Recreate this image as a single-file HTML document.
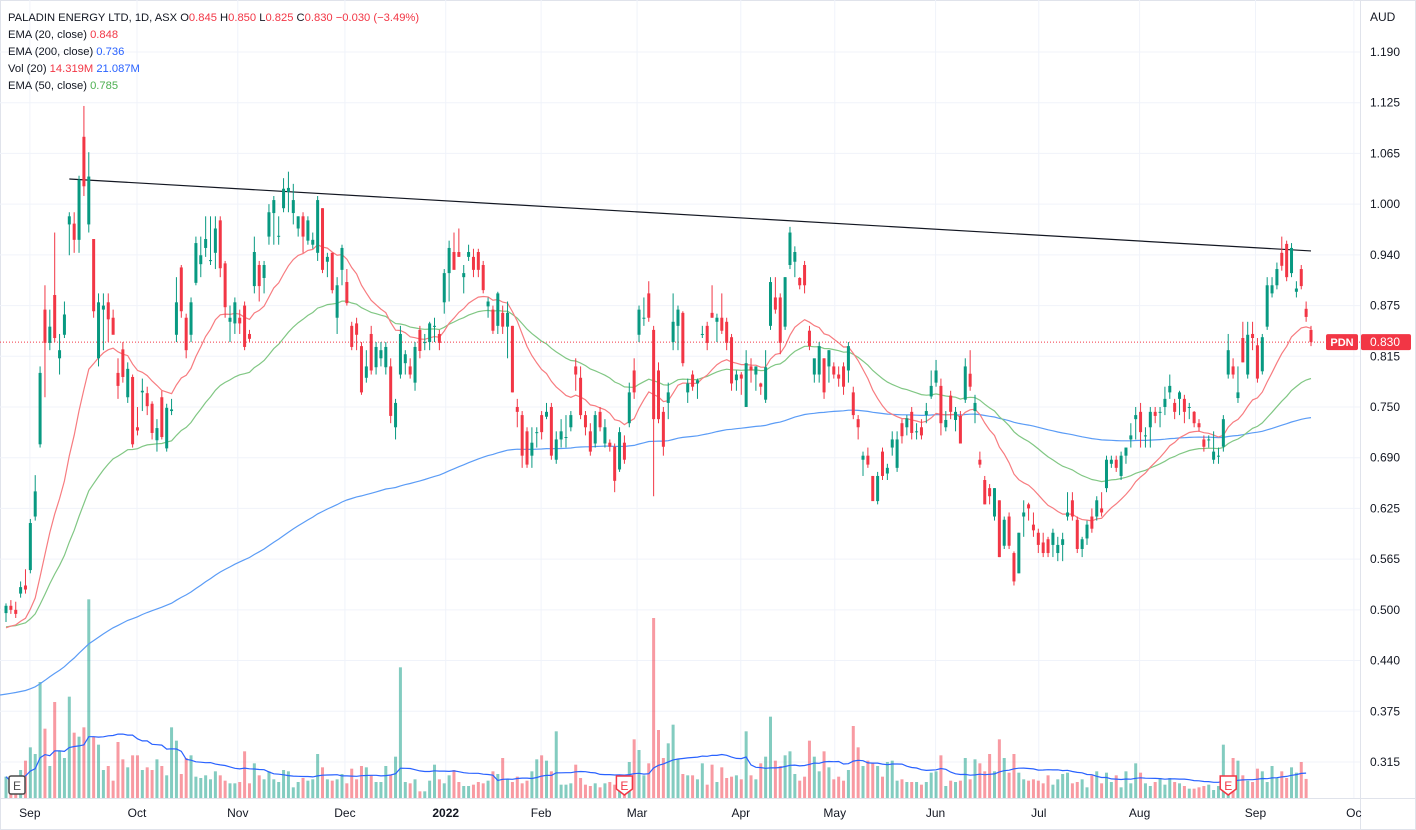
<!DOCTYPE html>
<html><head><meta charset="utf-8">
<style>
html,body{margin:0;padding:0;background:#fff;}
svg{display:block;font-family:"Liberation Sans",Arial,sans-serif;}
</style></head>
<body>
<svg id="chart" width="1416" height="830" viewBox="0 0 1416 830" xmlns="http://www.w3.org/2000/svg">
<rect x="0.5" y="0.5" width="1415" height="829" fill="#fff" stroke="#e0e3eb"/>
<g id="grid"></g>
<g id="volg"></g>
<g id="lines"></g>
<g id="candles"></g>
<g id="axes"></g>
<g id="legend" font-size="11.2" style="white-space:pre">
 <text x="8" y="21"><tspan fill="#131722">PALADIN ENERGY LTD, 1D, ASX  O</tspan><tspan fill="#f23645">0.845</tspan><tspan fill="#131722">  H</tspan><tspan fill="#f23645">0.850</tspan><tspan fill="#131722">  L</tspan><tspan fill="#f23645">0.825</tspan><tspan fill="#131722">  C</tspan><tspan fill="#f23645">0.830  −0.030 (−3.49%)</tspan></text>
 <text x="8" y="38"><tspan fill="#131722">EMA (20, close)  </tspan><tspan fill="#f23645">0.848</tspan></text>
 <text x="8" y="55"><tspan fill="#131722">EMA (200, close)  </tspan><tspan fill="#2962ff">0.736</tspan></text>
 <text x="8" y="72"><tspan fill="#131722">Vol (20)  </tspan><tspan fill="#f23645">14.319M  </tspan><tspan fill="#2962ff">21.087M</tspan></text>
 <text x="8" y="89"><tspan fill="#131722">EMA (50, close)  </tspan><tspan fill="#4caf50">0.785</tspan></text>
</g>
</svg>
<script>
const ohlc = [
[.496,.508,.485,.505],[.505,.512,.495,.500],[.500,.51,.49,.495],[.520,.535,.515,.528],[.530,.55,.52,.525],
[.549,.612,.545,.607],[.615,.666,.61,.646],[.704,.80,.70,.792],[.870,.90,.762,.829],[.829,.87,.82,.849],
[.888,.965,.83,.835],[.810,.84,.79,.820],[.839,.88,.835,.864],[.975,.99,.937,.985],[.976,.99,.94,.956],
[.956,1.035,.94,1.03],[1.083,1.121,1.01,1.022],[.975,1.064,.965,1.034],[.957,.957,.86,.868],[.810,.89,.80,.879],
[.870,.89,.82,.875],[.879,.89,.83,.858],[.860,.87,.84,.839],[.792,.81,.76,.776],[.821,.83,.78,.787],
[.762,.805,.755,.797],[.787,.79,.70,.704],[.725,.75,.715,.721],[.768,.785,.745,.770],[.767,.775,.74,.751],
[.754,.757,.71,.718],[.709,.735,.695,.724],[.762,.77,.71,.713],[.699,.754,.695,.749],[.745,.76,.74,.747],
[.839,.91,.83,.879],[.922,.925,.86,.868],[.860,.865,.81,.820],[.839,.885,.83,.879],[.903,.96,.90,.952],
[.926,.96,.91,.937],[.946,.985,.935,.957],[.931,.985,.925,.931],[.940,.985,.92,.970],[.980,.985,.91,.921],
[.927,.93,.86,.873],[.855,.875,.83,.860],[.853,.885,.84,.879],[.860,.87,.84,.853],[.875,.88,.82,.824],
[.840,.845,.83,.834],[.899,.96,.89,.941],[.925,.93,.88,.899],[.909,.93,.89,.925],[.960,1.0,.95,.990],
[.989,1.01,.95,1.005],[.961,.985,.95,.961],[.995,1.032,.99,1.019],[1.015,1.04,.99,1.020],[.989,1.025,.975,1.005],
[.970,.985,.96,.985],[.985,.99,.94,.960],[.955,.985,.95,.980],[.950,.965,.945,.956],[.940,1.01,.93,1.005],
[.995,.995,.915,.919],[.929,.94,.91,.935],[.940,.94,.89,.894],[.860,.91,.84,.900],[.919,.95,.90,.946],
[.904,.92,.875,.878],[.850,.855,.82,.824],[.853,.86,.82,.839],[.825,.83,.765,.768],[.786,.82,.78,.800],
[.840,.85,.79,.795],[.799,.83,.79,.824],[.810,.83,.80,.820],[.799,.83,.79,.824],[.800,.81,.73,.739],
[.725,.76,.71,.755],[.790,.85,.785,.840],[.804,.82,.79,.815],[.800,.81,.785,.790],[.780,.83,.77,.824],
[.845,.85,.81,.819],[.830,.84,.82,.830],[.830,.855,.82,.853],[.850,.86,.83,.850],[.840,.845,.82,.829],
[.879,.92,.865,.915],[.915,.955,.88,.946],[.941,.965,.93,.919],[.941,.97,.935,.935],[.910,.925,.89,.915],
[.935,.95,.93,.941],[.935,.945,.91,.919],[.941,.945,.91,.919],[.925,.93,.89,.894],[.874,.885,.86,.880],
[.870,.875,.84,.844],[.850,.892,.84,.890],[.866,.875,.84,.849],[.849,.88,.81,.866],[.850,.85,.768,.768],
[.750,.76,.725,.744],[.740,.745,.675,.690],[.720,.725,.675,.679],[.690,.725,.675,.706],[.719,.725,.70,.719],
[.740,.745,.71,.719],[.738,.755,.735,.744],[.750,.755,.685,.690],[.685,.72,.68,.710],[.710,.735,.70,.720],
[.713,.74,.70,.713],[.725,.745,.72,.740],[.800,.81,.77,.790],[.786,.80,.735,.740],[.740,.745,.715,.725],
[.720,.73,.69,.695],[.705,.745,.70,.740],[.744,.75,.72,.725],[.705,.735,.70,.725],[.706,.71,.695,.701],
[.701,.705,.645,.659],[.673,.725,.67,.719],[.706,.715,.68,.685],[.730,.78,.725,.768],[.795,.81,.76,.768],
[.839,.875,.83,.870],[.860,.885,.85,.860],[.890,.905,.855,.860],[.845,.85,.64,.735],[.795,.805,.73,.735],
[.744,.75,.69,.701],[.755,.78,.735,.768],[.830,.89,.82,.855],[.850,.875,.82,.870],[.866,.868,.80,.804],
[.768,.785,.755,.779],[.790,.795,.77,.775],[.779,.785,.76,.783],[.840,.85,.835,.840],[.850,.855,.82,.829],
[.866,.90,.86,.860],[.855,.865,.83,.860],[.860,.89,.84,.844],[.855,.86,.82,.829],[.836,.84,.77,.779],
[.783,.795,.77,.790],[.790,.793,.765,.785],[.750,.82,.75,.804],[.800,.81,.78,.795],[.790,.80,.77,.800],
[.779,.78,.765,.775],[.759,.82,.755,.799],[.850,.91,.845,.904],[.885,.91,.865,.870],[.885,.89,.815,.829],
[.849,.91,.845,.910],[.925,.972,.92,.965],[.929,.948,.91,.941],[.909,.91,.895,.900],[.925,.93,.89,.900],
[.844,.85,.82,.825],[.790,.805,.78,.810],[.790,.83,.78,.825],[.810,.81,.76,.768],[.800,.82,.78,.820],
[.800,.805,.785,.790],[.790,.80,.775,.785],[.800,.805,.765,.775],[.795,.83,.78,.825],[.768,.775,.735,.740],
[.735,.74,.71,.725],[.685,.695,.665,.690],[.690,.70,.675,.679],[.665,.665,.635,.634],[.634,.67,.63,.665],
[.695,.70,.66,.665],[.668,.68,.66,.675],[.700,.72,.69,.710],[.675,.72,.67,.710],[.730,.735,.705,.714],
[.725,.74,.715,.736],[.744,.75,.71,.718],[.720,.73,.71,.720],[.725,.735,.71,.715],[.740,.755,.73,.745],
[.763,.795,.76,.776],[.780,.808,.775,.795],[.776,.785,.715,.730],[.725,.745,.72,.734],[.764,.77,.735,.744],
[.734,.75,.72,.744],[.739,.745,.705,.705],[.759,.81,.755,.800],[.791,.82,.77,.775],[.745,.765,.73,.755],
[.685,.695,.675,.679],[.660,.665,.63,.630],[.650,.655,.63,.640],[.615,.65,.61,.650],[.635,.635,.565,.565],
[.579,.615,.575,.611],[.615,.62,.575,.579],[.570,.572,.53,.535],[.545,.595,.545,.595],[.615,.635,.59,.620],
[.630,.632,.61,.625],[.605,.62,.59,.598],[.595,.60,.57,.580],[.583,.595,.565,.570],[.587,.59,.565,.570],
[.580,.60,.565,.595],[.570,.59,.56,.580],[.580,.595,.56,.587],[.615,.645,.61,.620],[.635,.645,.61,.615],
[.611,.615,.57,.575],[.575,.59,.565,.587],[.588,.61,.58,.605],[.615,.625,.595,.600],[.615,.64,.61,.635],
[.625,.645,.615,.620],[.650,.69,.645,.685],[.680,.69,.675,.685],[.685,.69,.67,.675],[.665,.695,.66,.690],
[.690,.70,.68,.700],[.710,.73,.70,.715],[.735,.75,.71,.740],[.744,.755,.70,.719],[.715,.725,.70,.715],
[.725,.75,.70,.744],[.744,.75,.73,.739],[.744,.75,.725,.744],[.750,.775,.74,.760],[.768,.79,.76,.776],
[.755,.76,.735,.744],[.760,.77,.74,.768],[.760,.765,.73,.744],[.750,.755,.735,.750],[.744,.745,.725,.730],
[.730,.735,.72,.725],[.710,.715,.695,.701],[.710,.715,.70,.710],[.685,.72,.68,.695],[.690,.70,.68,.690],
[.701,.74,.695,.735],[.790,.84,.785,.820],[.800,.81,.785,.790],[.761,.80,.755,.768],[.835,.855,.805,.805],
[.790,.855,.785,.839],[.840,.855,.82,.835],[.826,.835,.78,.785],[.794,.84,.79,.836],[.849,.91,.845,.900],
[.890,.91,.885,.900],[.900,.928,.895,.920],[.940,.96,.918,.924],[.951,.955,.905,.910],[.915,.952,.91,.946],
[.892,.905,.885,.896],[.920,.925,.895,.899],[.871,.88,.855,.861],[.845,.850,.825,.830]
];
const volumes = [
16,9,9,21,28,38,33,87,52,24, 72,35,30,76,49,46,53,149,46,40,
21,24,13,42,29,23,32,32,21,23, 21,29,24,17,53,43,18,30,32,16,
15,17,14,20,17,13,11,11,12,35, 11,26,17,14,20,14,12,21,20,8,
12,15,13,14,33,23,14,13,14,18, 11,22,14,24,23,17,12,12,24,17,
31,98,12,11,14,5,5,13,25,14, 11,17,21,12,9,9,10,12,11,13,
20,18,30,14,12,16,11,13,20,29, 32,28,20,50,10,10,11,25,15,10,
9,11,8,11,12,10,14,9,27,44, 36,17,26,
135,51,30,41,55,29,18,17,17,14,26,10,25,12,23,15,16,17,14,50,
17,14,26,31,61,28,24,32,35,18,13,16,43,31,20,35,23,14,16,13,
21,54,38,24,28,26,24,16,27,28,13,14,12,12,12,10,12,19,20,32,
9,13,12,13,30,14,29,26,20,33,20,44,30,19,33,19,14,13,14,13,
11,17,10,14,18,19,11,12,14,8,17,20,11,19,12,17,8,20,11,26,
19,11,9,12,15,10,15,12,11,9,7,7,8,9,10,6,9,40,7,30,
28,17,13,12,22,20,12,24,15,20,15,23,19,27,14.3
];
const priceTicks = [1.1875,1.125,1.0625,1.0,0.9375,0.875,0.8125,0.75,0.6875,0.625,0.5625,0.5,0.4375,0.375,0.3125];
const priceTickLabels = ["1.190","1.125","1.065","1.000","0.940","0.875","0.815","0.750","0.690","0.625","0.565","0.500","0.440","0.375","0.315"];
const monthLabels = ["Sep","Oct","Nov","Dec","2022","Feb","Mar","Apr","May","Jun","Jul","Aug","Sep","Oc"];
const monthIdx = [4.9,26.9,47.6,69.6,90.3,109.9,129.6,150.9,170.2,190.9,212.1,232.8,256.6,276.8];
const emaSeeds = {e20:0.475, e50:0.478, e200:0.395};
const trendStart = [13, 1.031];
const trendEnd = [268, 0.9423];
const lastPrice = 0.830;
const earningsIdx = [2, 127, 251];

const NS="http://www.w3.org/2000/svg";
const PLOT_R=1360, X0=6, X1=1311, VOL_BASE=798, VOL_PX=0.75;
const N=ohlc.length;
const step=(X1-X0)/(N-1);
const xOf=i=>X0+i*step;
const yOf=p=>52+(1.1875-p)*811.4;
const yVol=v=>VOL_BASE-v/VOL_PX;
function mk(tag,attrs,parent){const e=document.createElementNS(NS,tag);for(const k in attrs)e.setAttribute(k,attrs[k]);parent.appendChild(e);return e;}
const G=id=>document.getElementById(id);

const grid=G('grid');
priceTicks.forEach((p,k)=>{const l=mk('line',{x1:0,x2:PLOT_R,y1:yOf(p),y2:yOf(p),stroke:'#f0f3fa','stroke-width':1},grid);

});
monthIdx.forEach(i=>{const x=xOf(i);if(x<PLOT_R){const l=mk('line',{x1:x,x2:x,y1:0,y2:VOL_BASE,stroke:'#f0f3fa','stroke-width':1},grid);

}});

const volg=G('volg');
for(let i=0;i<N;i++){const v=volumes[i];if(v==null)continue;const [o,h,l,c]=ohlc[i];const up=c>=o;
const r=mk('rect',{x:xOf(i)-1.5,y:yVol(v),width:3,height:v/VOL_PX,fill:up?'rgba(8,153,129,0.5)':'rgba(242,54,69,0.5)'},volg);

}

const lines=G('lines');
function ema(period,seed){const a=2/(period+1);let e=seed;const out=[];ohlc.forEach(b=>{e=e+a*(b[3]-e);out.push(e);});return out;}
function pathFor(arr,yf){return arr.map((v,i)=>(i?'L':'M')+xOf(i).toFixed(1)+' '+yf(v).toFixed(1)).join(' ');}
const e200=ema(200,emaSeeds.e200),e50=ema(50,emaSeeds.e50),e20=ema(20,emaSeeds.e20);
const p200=mk('path',{d:'M0 '+yOf(emaSeeds.e200).toFixed(1)+' L'+pathFor(e200,yOf).slice(1),fill:'none',stroke:'#5b9cf6','stroke-width':1.2},lines);


const p50=mk('path',{d:pathFor(e50,yOf),fill:'none',stroke:'#81c784','stroke-width':1.2},lines);


const p20=mk('path',{d:pathFor(e20,yOf),fill:'none',stroke:'#f77c80','stroke-width':1.2},lines);


const vma=volumes.slice(0,N).map((v,i)=>{const s=volumes.slice(Math.max(0,i-19),i+1);return s.reduce((a,b)=>a+b,0)/s.length;});
const pv=mk('path',{d:pathFor(vma,yVol),fill:'none',stroke:'#2962ff','stroke-width':1.2},lines);


const tl=mk('line',{x1:xOf(trendStart[0]),y1:yOf(trendStart[1]),x2:xOf(trendEnd[0]),y2:yOf(trendEnd[1]),stroke:'#131722','stroke-width':1.2},lines);


const pl=mk('line',{x1:0,x2:PLOT_R,y1:yOf(lastPrice),y2:yOf(lastPrice),stroke:'#f23645','stroke-width':1,'stroke-dasharray':'1 2'},lines);



const cg=G('candles');
ohlc.forEach((b,i)=>{const [o,h,l,c]=b;const up=c>=o;const col=up?'#089981':'#f23645';const x=xOf(i);
const w=mk('line',{x1:x,x2:x,y1:yOf(h),y2:yOf(l),stroke:col,'stroke-width':1},cg);


const top=yOf(Math.max(o,c)),bh=Math.max(1,yOf(Math.min(o,c))-top);
const r=mk('rect',{x:x-1.5,y:top,width:3,height:bh,fill:col},cg);

});

const ax=G('axes');
const sep=mk('line',{x1:PLOT_R+0.5,x2:PLOT_R+0.5,y1:0,y2:830,stroke:'#e0e3eb'},ax);


const bl=mk('line',{x1:0,x2:1416,y1:VOL_BASE+0.5,y2:VOL_BASE+0.5,stroke:'#e0e3eb'},ax);


const cur=mk('text',{x:1370,y:21,'font-size':12,fill:'#131722'},ax);cur.textContent='AUD';


priceTicks.forEach((p,k)=>{const t=mk('text',{x:1370,y:yOf(p)+4,'font-size':12,fill:'#131722'},ax);t.textContent=priceTickLabels[k];

});
monthLabels.forEach((m,k)=>{const t=mk('text',{x:xOf(monthIdx[k]),y:817,'font-size':12,fill:'#131722','text-anchor':'middle','font-weight':m==='2022'?'bold':'normal'},ax);t.textContent=m;

});
const ly=yOf(lastPrice);
const tg=mk('rect',{x:1326,y:ly-8,width:32,height:16,rx:2,fill:'#f23645'},ax);


const tt=mk('text',{x:1342,y:ly+4,'font-size':11,fill:'#fff','text-anchor':'middle','font-weight':'bold'},ax);tt.textContent='PDN';


const pg=mk('rect',{x:1361,y:ly-8,width:50,height:16,rx:2,fill:'#f23645'},ax);


const pt=mk('text',{x:1370,y:ly+4,'font-size':12,fill:'#fff'},ax);pt.textContent='0.830';


earningsIdx.forEach((i,k)=>{const x=k===0?17:xOf(i);const g=mk('g',{},ax);


if(k===0){mk('rect',{x:x-8,y:776,width:16,height:18,rx:2,fill:'#fff',stroke:'#4a4a4a','stroke-width':1.5},g);}
else{mk('path',{d:`M${x-8} 776 h16 v13 l-8 6 l-8 -6 z`,fill:'#fff',stroke:'#f23645','stroke-width':1.5},g);}
const t=mk('text',{x:x,y:790,'font-size':12,'text-anchor':'middle',fill:k===0?'#4a4a4a':'#f23645'},g);t.textContent='E';});
</script>
</body></html>
